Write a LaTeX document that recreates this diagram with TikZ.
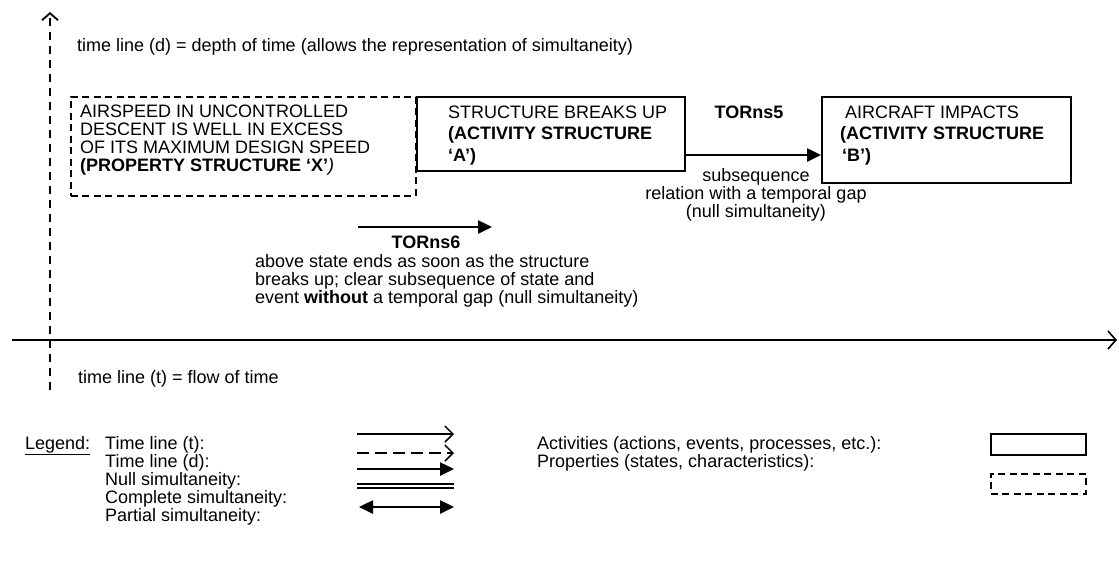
\documentclass[tikz,border=0pt]{standalone}
\usepackage{fontspec}
\setmainfont{Liberation Sans}
\usetikzlibrary{arrows.meta}
\begin{document}
\begin{tikzpicture}[x=1pt,y=-1pt,
  txt/.style={inner sep=0pt, font=\fontsize{18}{18}\selectfont},
  vaxis/.style={line width=2.4pt, dash pattern=on 8pt off 6pt, -{Straight Barb[length=7pt,width=16pt,line width=1.8pt]}},
  haxis/.style={line width=1.8pt, -{Straight Barb[length=8pt,width=18pt,line width=1.6pt]}},
  actbox/.style={draw, line width=1.5pt, inner sep=0pt, anchor=north west},
  propbox/.style={draw, line width=1.5pt, dash pattern=on 7pt off 4.5pt, inner sep=0pt, anchor=north west},
  nullarr/.style={line width=2.5pt, -{Triangle[length=14pt,width=13pt]}},
  tlarr/.style={line width=1.5pt, -{Straight Barb[length=8pt,width=16pt,line width=1.5pt]}},
  tldarr/.style={line width=1.5pt, dash pattern=on 12pt off 6pt, -{Straight Barb[length=8pt,width=16pt,line width=1.5pt]}},
  partarr/.style={line width=2.5pt, {Triangle[length=14pt,width=13pt]}-{Triangle[length=14pt,width=13pt]}},
  complarr/.style={double, double distance=2.5pt, line width=1.4pt}
]
\useasboundingbox (0,0) rectangle (1119,563);

% axes
\coordinate (vbot) at (50,390);
\coordinate (vtop) at (50,12);
\coordinate (hl) at (12,340);
\coordinate (hr) at (1117,340);
\draw[vaxis] (vbot) -- (vtop);
\draw[haxis] (hl) -- (hr);

\node[txt, anchor=base west] (dlabel) at (77,51) {time line (d) = depth of time (allows the representation of simultaneity)};
\node[txt, anchor=base west] (tlabel) at (78,383) {time line (t) = flow of time};

% boxes
\node[propbox, minimum width=345pt, minimum height=99pt] (X) at (70,96) {};
\node[actbox, minimum width=268pt, minimum height=74pt] (A) at (416,96) {};
\node[actbox, minimum width=249pt, minimum height=86pt] (B) at (821,96) {};

\node[txt, anchor=north west, align=left] (Xt) at (80,104.5)
  {AIRSPEED IN UNCONTROLLED\\DESCENT IS WELL IN EXCESS\\OF ITS MAXIMUM DESIGN SPEED\\\textbf{(PROPERTY STRUCTURE ‘X’}\textit{)}};
\node[txt, anchor=north west, align=left, font=\fontsize{18}{21.5}\selectfont] (At) at (448,105.5)
  {STRUCTURE BREAKS UP\\\textbf{(ACTIVITY STRUCTURE}\\\textbf{‘A’)}};
\node[txt, anchor=north west, align=left, font=\fontsize{18}{21.5}\selectfont] (Bt) at (840,105.5)
  {\hspace*{5pt}AIRCRAFT IMPACTS\\\textbf{(ACTIVITY STRUCTURE}\\\hspace*{2pt}\textbf{‘B’)}};

% TORns5
\node[txt, font=\fontsize{18}{18}\selectfont\bfseries] (t5) at (749,112) {TORns5};
\coordinate (r5) at (0,155);
\draw[nullarr] (A.east |- r5) -- (B.west |- r5);
\node[txt, align=center] (t5d) at (756,195) {subsequence\\relation with a temporal gap\\(null simultaneity)};

% TORns6
\coordinate (t6s) at (358,227);
\coordinate (t6e) at (492,227);
\draw[nullarr] (t6s) -- (t6e);
\node[txt, font=\fontsize{18}{18}\selectfont\bfseries] (t6) at (426,242) {TORns6};
\node[txt, anchor=north west, align=left] (t6d) at (255,254)
  {above state ends as soon as the structure\\breaks up; clear subsequence of state and\\event \textbf{without} a temporal gap (null simultaneity)};

% legend
\node[txt, anchor=base west] (leg) at (25,449) {\underline{Legend:}};
\node[txt, anchor=north west, align=left, font=\fontsize{18}{18}\selectfont] (legt) at (105,436)
  {Time line (t):\\Time line (d):\\Null simultaneity:\\Complete simultaneity:\\Partial simultaneity:};
\coordinate (l1a) at (357,434); \coordinate (l1b) at (454,434);
\coordinate (l2a) at (357,453); \coordinate (l2b) at (454,453);
\coordinate (l3a) at (357,469); \coordinate (l3b) at (454,469);
\coordinate (l4a) at (357,486); \coordinate (l4b) at (454,486);
\coordinate (l5a) at (359,507); \coordinate (l5b) at (454,507);
\draw[tlarr] (l1a) -- (l1b);
\draw[tldarr] (l2a) -- (l2b);
\draw[nullarr] (l3a) -- (l3b);
\draw[complarr] (l4a) -- (l4b);
\draw[partarr] (l5a) -- (l5b);

\node[txt, anchor=north west, align=left, font=\fontsize{18}{18}\selectfont] (legr) at (537,436)
  {Activities (actions, events, processes, etc.):\\Properties (states, characteristics):};
\node[actbox, minimum width=95pt, minimum height=21pt] (la) at (990,433) {};
\node[propbox, minimum width=95pt, minimum height=20pt] (lp) at (990,473) {};
\end{tikzpicture}
\end{document}
